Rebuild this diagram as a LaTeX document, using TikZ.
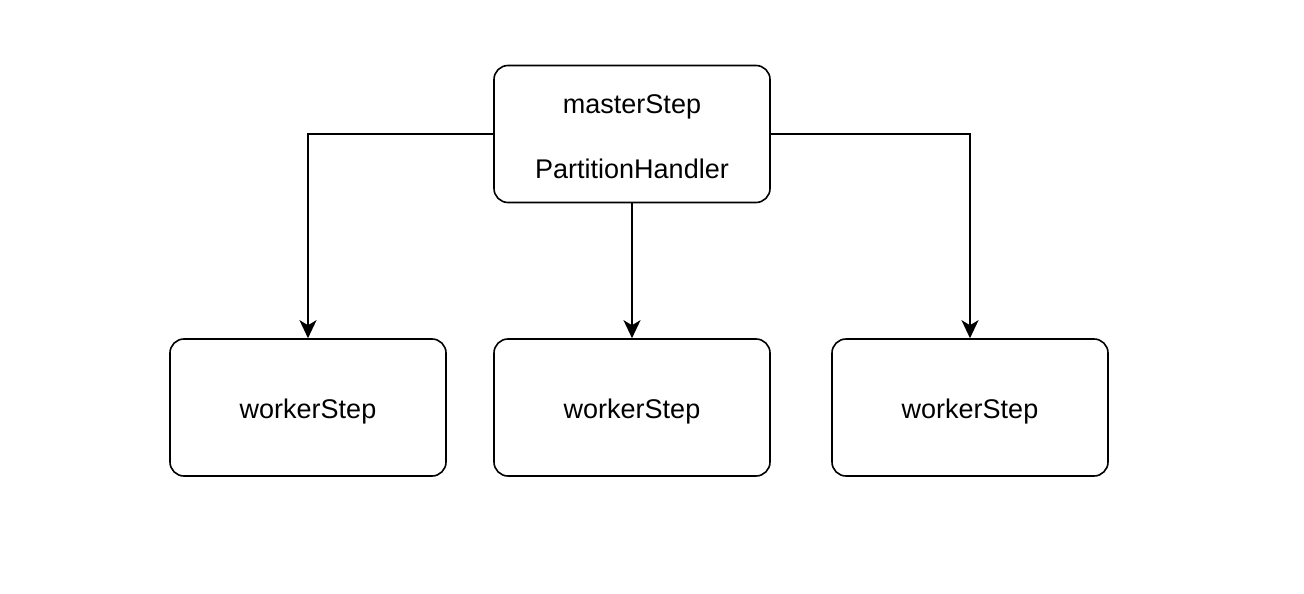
\documentclass[tikz,border=0pt]{standalone}
\usepackage{fontspec}
\setmainfont{Liberation Sans}
\usetikzlibrary{arrows.meta}
\begin{document}
\begin{tikzpicture}[x=1pt,y=-1pt,
  box/.style={draw=black,line width=1.6pt,rounded corners=14pt,minimum width=276pt,minimum height=137pt,inner sep=0pt,font=\fontsize{27}{31}\selectfont,align=center},
  conn/.style={line width=1.8pt,-{Stealth[length=18pt,width=17pt,inset=5pt]}}]
\useasboundingbox (0,0) rectangle (1304,594);
\node[box] (m) at (632,134) {\rule{0pt}{24pt}masterStep\\[34pt]PartitionHandler};
\node[box,text height=27pt] (w1) at (308,407.5) {workerStep};
\node[box,text height=27pt] (w2) at (632,407.5) {workerStep};
\node[box,text height=27pt] (w3) at (970,407.5) {workerStep};
\draw[conn] (m.west) -| (w1.north);
\draw[conn] (m.south) -- (w2.north);
\draw[conn] (m.east) -| (w3.north);
\end{tikzpicture}
\end{document}
